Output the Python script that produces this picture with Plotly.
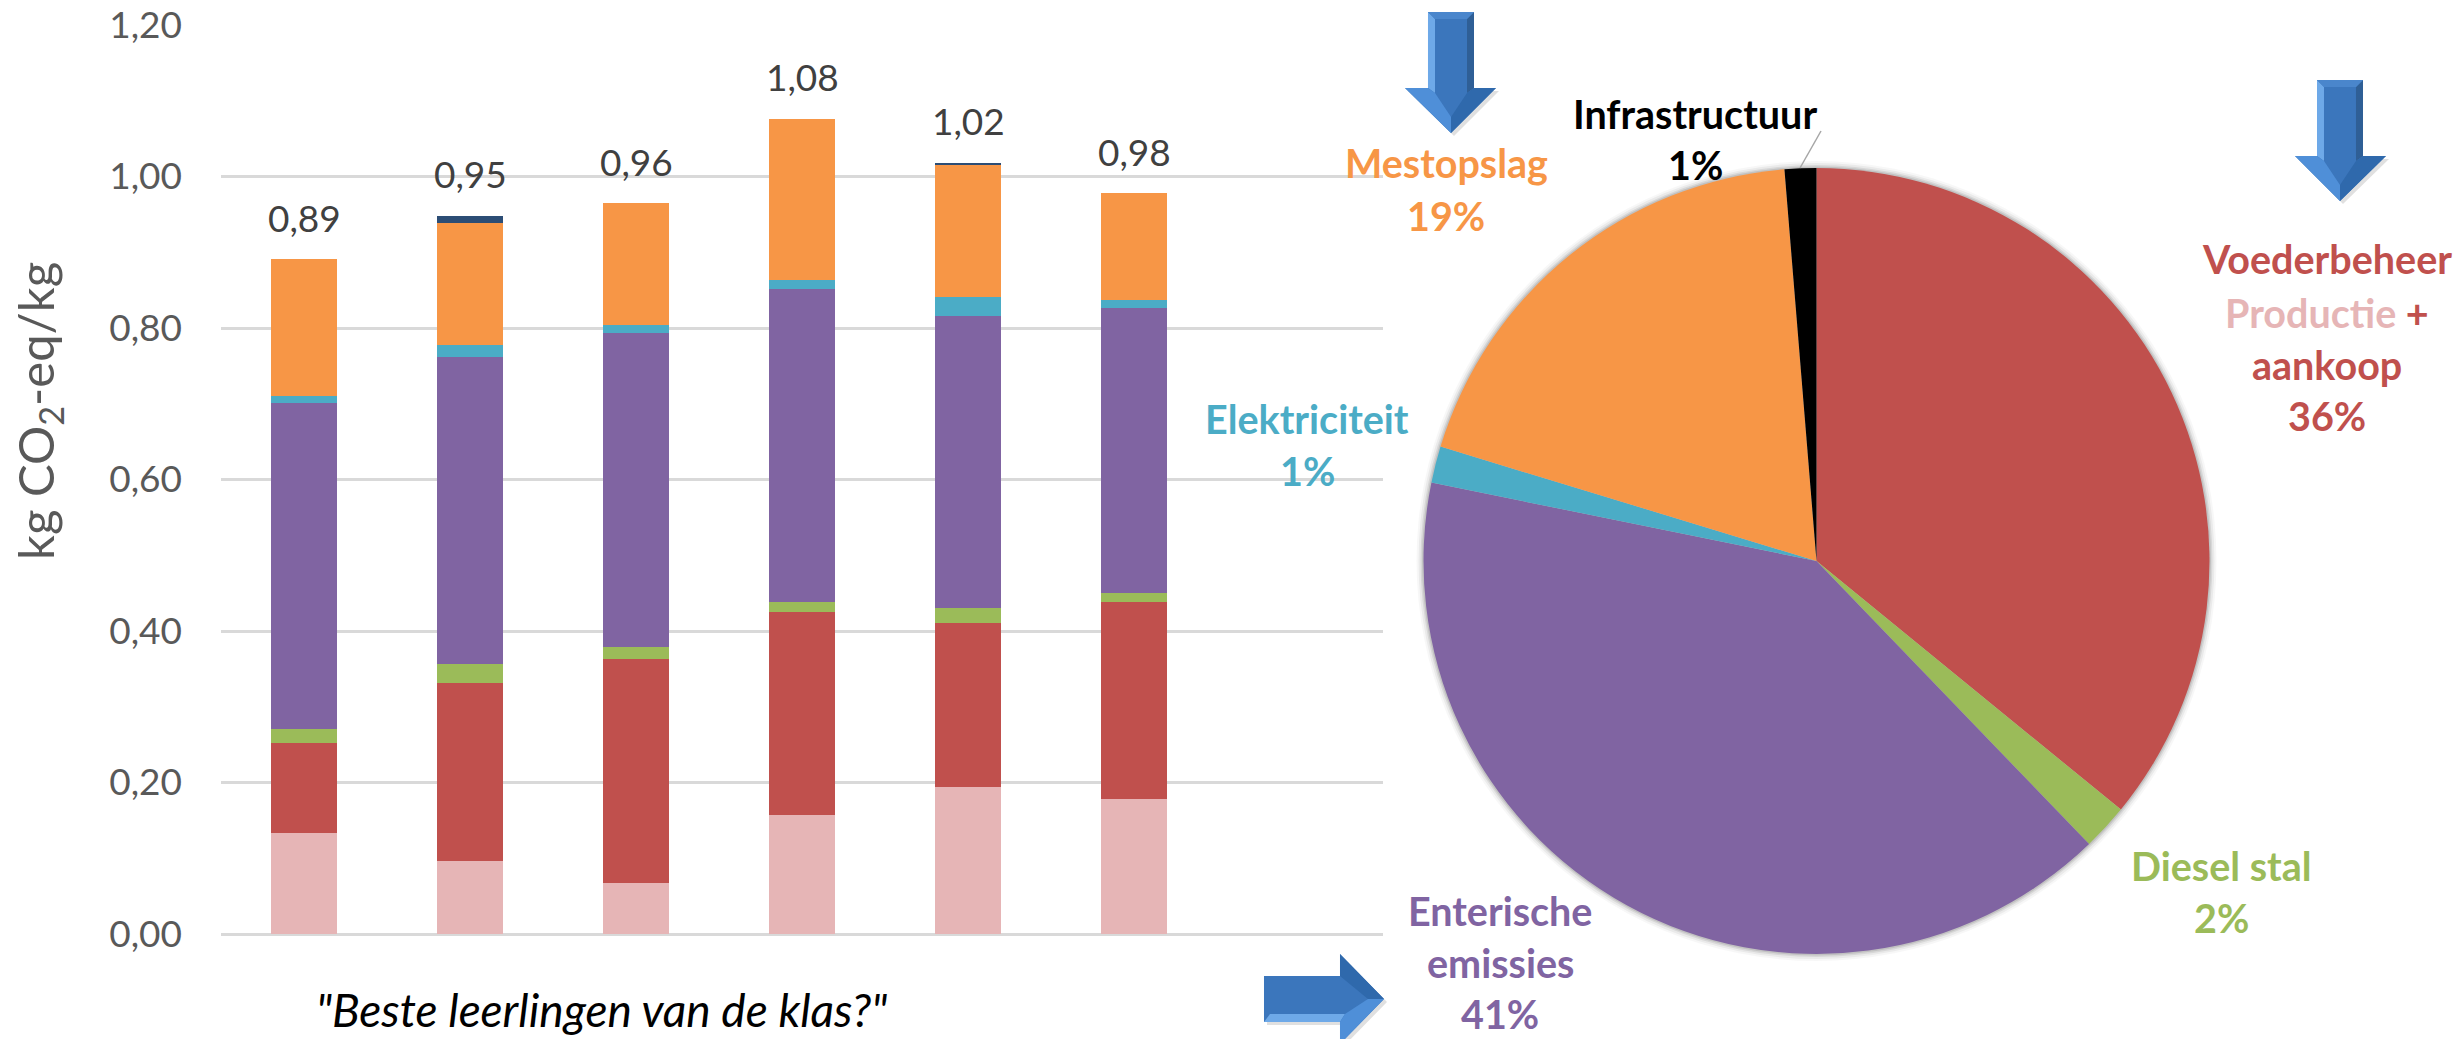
import plotly.graph_objects as go

W, H = 2461, 1039
FONT = "Lato"

# ---- data ----
positions = [1, 2, 3, 4, 5, 6]
productie = [0.1334, 0.0960, 0.0669, 0.1567, 0.1941, 0.1778]
aankoop = [0.1188, 0.2355, 0.2958, 0.2685, 0.2166, 0.2606]
diesel = [0.0181, 0.0245, 0.0167, 0.0137, 0.0198, 0.0124]
enterisch = [0.4301, 0.4060, 0.4143, 0.4129, 0.3856, 0.3759]
elektriciteit = [0.0101, 0.0158, 0.0097, 0.0115, 0.0252, 0.0097]
mestopslag = [0.1801, 0.1611, 0.1611, 0.2130, 0.1747, 0.1418]
infrastructuur = [0.0000, 0.0093, 0.0000, 0.0000, 0.0022, 0.0000]
totals_labels = ["0,89", "0,95", "0,96", "1,08", "1,02", "0,98"]
tick_values = [0, 0.2, 0.4, 0.6, 0.8, 1.0, 1.2]
tick_labels = ["0,00", "0,20", "0,40", "0,60", "0,80", "1,00", "1,20"]

pie_names = ["Voederbeheer", "Diesel stal", "Enterische emissies", "Elektriciteit", "Mestopslag", "Infrastructuur"]
pie_values = [35.9, 1.9, 40.4, 1.5, 19.0, 1.3]

PINK, RED, GREEN, PURPLE, BLUE, ORANGE, NAVY = (
    "#E6B5B6", "#C0504D", "#9BBB59", "#8064A2", "#4BACC6", "#F79646", "#2C4D75")


def px(x):
    return x / W


def py(y):
    return 1 - y / H


fig = go.Figure()
stack = [("Productie", productie, PINK), ("Aankoop", aankoop, RED), ("Diesel stal", diesel, GREEN),
         ("Enterische emissies", enterisch, PURPLE), ("Elektriciteit", elektriciteit, BLUE),
         ("Mestopslag", mestopslag, ORANGE), ("Infrastructuur", infrastructuur, NAVY)]
for name, vals, col in stack:
    fig.add_trace(go.Bar(x=positions, y=vals, name=name, marker=dict(color=col, line=dict(width=0))))

fig.add_trace(go.Pie(labels=pie_names, values=pie_values, sort=False, direction="clockwise", rotation=0,
                     marker=dict(colors=[RED, GREEN, PURPLE, BLUE, ORANGE, "#000000"], line=dict(width=0)),
                     textinfo="none", automargin=False, showlegend=False,
                     domain=dict(x=[px(1423.5), px(2209.5)], y=[py(954), py(168)])))

annotations = []


def label(x, y, html, size=39.5, color="#000000", bold=True, italic=False):
    if bold:
        html = f"<b>{html}</b>"
    if italic:
        html = f"<i>{html}</i>"
    annotations.append(dict(x=px(x), y=py(y), xref="paper", yref="paper", text=html, showarrow=False,
                            xanchor="center", yanchor="middle", align="center",
                            font=dict(family=FONT, size=size, color=color)))


# totals above the bars, placed through the data axes
tops = [sum(v[i] for _, v, _ in stack) for i in range(len(positions))]
for xv, top, txt in zip(positions, tops, totals_labels):
    annotations.append(dict(x=xv, y=top, xref="x", yref="y", text=txt, showarrow=False, yshift=42,
                            xanchor="center", yanchor="middle",
                            font=dict(family=FONT, size=37, color="#404040")))

label(1446, 163, "Mestopslag", color=ORANGE)
label(1446, 215, "19%", color=ORANGE)
label(1695, 113, "Infrastructuur")
label(1695, 165, "1%")
label(1307, 418, "Elektriciteit", color=BLUE)
label(1307, 470, "1%", color=BLUE)
label(2327, 258, "Voederbeheer", color=RED)
label(2327, 312, f'<span style="color:{PINK}">Productie</span> +', color=RED)
label(2327, 365, "aankoop", color=RED)
label(2327, 415, "36%", color=RED)
label(2221, 865, "Diesel stal", color=GREEN)
label(2221, 917, "2%", color=GREEN)
label(1500, 910, "Enterische", color=PURPLE)
label(1500, 962, "emissies", color=PURPLE)
label(1500, 1013, "41%", color=PURPLE)
label(601, 1009, '"Beste leerlingen van de klas?"', size=46, bold=False, italic=True)
annotations.append(dict(x=px(38), y=py(411), xref="paper", yref="paper", text="kg CO<sub>2</sub>-eq/kg",
                        textangle=-90, showarrow=False, xanchor="center", yanchor="middle",
                        font=dict(family=FONT, size=49, color="#595959")))

shapes = []


def poly(points, fill, layer="above"):
    path = "M " + " L ".join(f"{px(x):.5f},{py(y):.5f}" for x, y in points) + " Z"
    shapes.append(dict(type="path", path=path, xref="paper", yref="paper", fillcolor=fill,
                       line=dict(width=0), layer=layer))


def down_arrow(x0, x1, y0, ys, xl, xr, xt, yt):
    b = 7
    poly([(xt + 3, yt + 3), (xl + 3, ys + 3), (xr + 3, ys + 3)], "rgba(0,0,0,0.12)", "below")
    poly([(x0, y0), (x1, y0), (x1, ys), (xr, ys), (xt, yt), (xl, ys), (x0, ys)], "#3B76BC")
    poly([(x0, y0), (x0 + b, y0 + b), (x0 + b, ys + 5), (x0, ys)], "#6EA9E8")
    poly([(x1, y0), (x1 - b, y0 + b), (x1 - b, ys + 5), (x1, ys)], "#2F5F96")
    poly([(x0, y0), (x1, y0), (x1 - b, y0 + b), (x0 + b, y0 + b)], "#4A86CC")
    poly([(xl, ys), (x0, ys), (x0 + b, ys + 5), (xt, yt - 16), (xt, yt)], "#4F8FD8")
    poly([(xr, ys), (x1, ys), (x1 - b, ys + 5), (xt, yt - 16), (xt, yt)], "#2F69AC")


down_arrow(1428, 1474, 12, 88, 1405, 1496, 1451, 133)
down_arrow(2317, 2363, 80, 156, 2295, 2386, 2340, 201)

# right-pointing arrow
poly([(1267, 979), (1343, 979), (1343, 957), (1387, 1002), (1343, 1047), (1343, 1025), (1267, 1025)],
     "rgba(0,0,0,0.12)", "below")
poly([(1264, 976), (1340, 976), (1340, 954), (1384, 999), (1340, 1044), (1340, 1022), (1264, 1022)], "#3B76BC")
poly([(1264, 1022), (1340, 1022), (1345, 1014), (1270, 1014)], "#6EA9E8")
poly([(1340, 1044), (1340, 1022), (1345, 1014), (1368, 999), (1384, 999)], "#4F8FD8")
poly([(1340, 954), (1340, 976), (1368, 999), (1384, 999)], "#2F69AC")

# leader line of Infrastructuur
shapes.append(dict(type="line", x0=px(1800), y0=py(168), x1=px(1821), y1=py(131), xref="paper", yref="paper",
                   line=dict(color="#A6A6A6", width=1.5)))

# soft edge around the pie
for grow, alpha in [(7, 0.03), (5, 0.05), (3, 0.08), (1.5, 0.10)]:
    shapes.append(dict(type="circle", xref="paper", yref="paper", layer="below",
                       x0=px(1423.5 - grow), x1=px(2209.5 + grow), y0=py(954 + grow), y1=py(168 - grow),
                       fillcolor=f"rgba(0,0,0,{alpha})", line=dict(width=0)))

fig.update_layout(
    width=W, height=H, autosize=False, margin=dict(l=0, r=0, t=0, b=0),
    paper_bgcolor="white", plot_bgcolor="rgba(0,0,0,0)",
    barmode="stack", bargap=0.6, showlegend=False,
    annotations=annotations, shapes=shapes,
    xaxis=dict(domain=[px(221), px(1383)], range=[0.5, 7.5], showticklabels=False, showgrid=False,
               zeroline=False, showline=False, ticks="", automargin=False),
    yaxis=dict(domain=[py(934), py(25)], range=[0, 1.2], tickmode="array", tickvals=tick_values,
               ticktext=tick_labels, showgrid=True, gridcolor="#D9D9D9", gridwidth=2.5,
               zeroline=True, zerolinecolor="#D9D9D9", zerolinewidth=2.5, showline=False, ticks="",
               ticklabelstandoff=38, automargin=False,
               tickfont=dict(family=FONT, size=37, color="#595959")),
)
fig.write_html("out.html", config={"displayModeBar": False},
               post_script="document.body.style.margin='0';document.documentElement.style.overflow='hidden';")
